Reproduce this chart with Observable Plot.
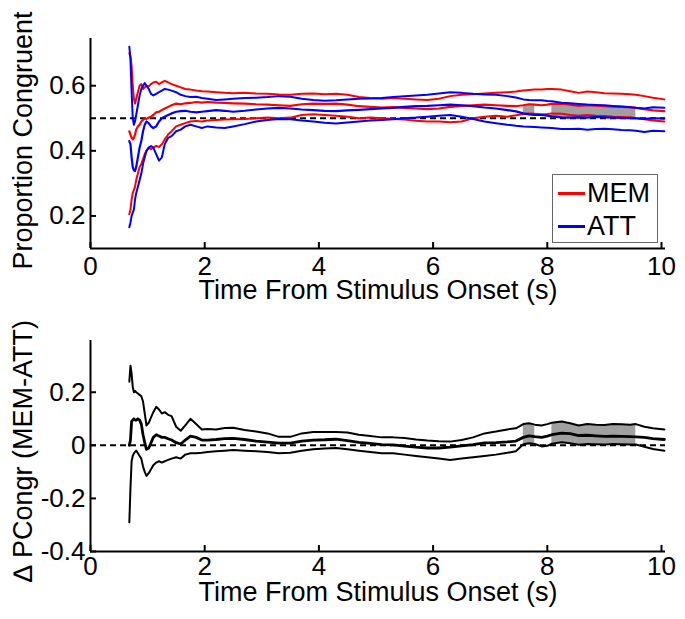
<!DOCTYPE html>
<html><head><meta charset="utf-8">
<script src="https://cdn.jsdelivr.net/npm/d3@7"></script>
<script src="https://cdn.jsdelivr.net/npm/@observablehq/plot@0.6"></script>
<style>
body{margin:0;background:#fff;font-family:"Liberation Sans",Arial,sans-serif;}
#wrap{position:relative;width:685px;height:619px;}
#wrap svg{display:block;}
.legend{position:absolute;left:552px;top:174px;width:106px;height:69px;box-sizing:border-box;border:1px solid #666;background:#fff;}
.row{position:absolute;left:5px;height:30px;display:flex;align-items:center;font-size:27px;color:#000;line-height:30px;}
.sw{display:inline-block;width:27px;height:3px;margin-right:2px;}
</style></head><body><div id="wrap"></div>
<script>
// time (s)
const time = [0.68,0.70,0.72,0.74,0.76,0.78,0.80,0.83,0.86,0.89,0.92,0.95,0.98,1.02,1.06,1.10,1.15,1.20,1.25,1.30,1.36,1.42,1.50,1.58,1.66,1.75,1.85,1.95,2.05,2.2,2.35,2.5,2.7,2.9,3.1,3.3,3.5,3.7,3.9,4.1,4.3,4.5,4.7,4.9,5.1,5.3,5.5,5.7,5.9,6.1,6.3,6.5,6.7,
  6.9,7.1,7.3,7.45,7.58,7.68,7.78,7.9,8.0,8.08,8.25,8.4,8.55,8.7,8.85,9.0,9.15,9.3,9.45,9.55,9.7,9.85,10.05];
// top panel: proportion congruent, MEM (red) and ATT (blue): mean and CI bounds
const memHi = [.70,.69,.66,.60,.56,.545,.56,.58,.60,.605,.59,.595,.60,.598,.605,.61,.612,.605,.61,.615,.61,.605,.60,.595,.59,.588,.585,.583,.582,.58,.578,.577,.578,.576,.575,.573,.572,.575,.576,.574,.575,.572,.565,.562,.56,.562,.56,.558,.556,.56,.568,.572,.574,
  .576,.578,.58,.582,.585,.587,.588,.588,.59,.59,.588,.583,.578,.582,.58,.577,.576,.575,.574,.572,.568,.563,.558];
const memMean = [.46,.45,.44,.435,.44,.45,.465,.475,.48,.49,.495,.50,.498,.502,.505,.51,.518,.52,.525,.53,.535,.54,.545,.543,.546,.547,.55,.548,.55,.548,.547,.546,.545,.543,.542,.54,.538,.543,.545,.544,.545,.542,.537,.535,.533,.534,.532,.53,.528,.53,.535,.538,.54,
  .542,.54,.538,.537,.54,.543,.542,.54,.542,.544,.545,.542,.538,.54,.539,.537,.536,.535,.534,.532,.528,.524,.522];
const memLo = [.205,.22,.25,.27,.28,.29,.31,.33,.35,.36,.375,.39,.40,.41,.405,.41,.415,.412,.42,.435,.45,.46,.475,.48,.485,.49,.492,.49,.493,.495,.496,.497,.498,.50,.502,.50,.502,.51,.512,.51,.508,.505,.50,.502,.50,.498,.496,.492,.49,.49,.488,.49,.50,
  .505,.508,.505,.509,.513,.515,.514,.512,.513,.515,.514,.51,.508,.51,.508,.507,.505,.504,.503,.5,.497,.493,.49];
const attHi = [.72,.68,.58,.50,.48,.49,.51,.54,.57,.59,.60,.608,.60,.59,.575,.57,.575,.58,.585,.59,.588,.585,.58,.572,.568,.565,.566,.562,.56,.556,.558,.56,.562,.563,.565,.568,.566,.56,.556,.554,.555,.558,.56,.561,.562,.565,.568,.57,.572,.576,.58,.578,.575,
  .573,.572,.568,.564,.558,.556,.555,.555,.553,.552,.548,.546,.544,.542,.541,.54,.538,.536,.534,.532,.53,.534,.532];
const attMean = [.43,.42,.38,.35,.34,.338,.35,.38,.41,.43,.46,.48,.49,.485,.475,.47,.475,.49,.50,.505,.51,.515,.52,.522,.523,.52,.518,.52,.522,.525,.523,.52,.523,.527,.53,.532,.53,.527,.525,.523,.522,.524,.526,.528,.53,.532,.535,.537,.538,.54,.542,.54,.537,
  .533,.53,.525,.521,.515,.512,.51,.51,.508,.506,.503,.502,.503,.502,.504,.503,.502,.501,.5,.5,.498,.5,.499];
const attLo = [.165,.18,.2,.21,.22,.25,.27,.29,.31,.33,.36,.38,.40,.41,.415,.41,.39,.37,.38,.42,.44,.445,.46,.465,.475,.48,.475,.47,.475,.472,.47,.475,.482,.49,.495,.498,.497,.493,.49,.486,.484,.487,.49,.493,.495,.497,.50,.502,.505,.508,.51,.505,.498,
  .49,.485,.48,.477,.475,.474,.473,.472,.471,.47,.467,.467,.468,.465,.467,.468,.466,.464,.463,.462,.458,.462,.46];
// bottom panel: difference MEM-ATT, mean and CI bounds
const dHi = [.24,.30,.27,.22,.20,.205,.20,.195,.19,.185,.165,.12,.075,.085,.105,.125,.145,.135,.12,.125,.115,.11,.07,.055,.075,.10,.08,.06,.062,.06,.065,.066,.058,.052,.045,.032,.032,.045,.05,.05,.05,.048,.04,.035,.03,.03,.028,.022,.018,.015,.014,.02,.03,
  .045,.052,.06,.064,.08,.083,.078,.075,.08,.085,.09,.083,.075,.08,.078,.077,.08,.079,.078,.08,.07,.064,.06];
const dMean = [0,.02,.09,.095,.10,.095,.095,.10,.095,.08,.04,.01,-.015,-.01,.01,.03,.04,.035,.03,.03,.025,.02,.01,.005,.02,.035,.03,.02,.02,.022,.025,.026,.022,.016,.012,.008,.008,.016,.02,.021,.023,.018,.011,.007,.003,.002,-.003,-.007,-.01,-.01,-.007,-.002,.003,
  .009,.01,.013,.016,.03,.036,.033,.03,.035,.04,.046,.044,.037,.038,.036,.034,.035,.034,.033,.032,.03,.025,.022];
const dLo = [-.29,-.16,-.06,-.04,-.03,-.025,-.02,-.03,-.04,-.05,-.08,-.10,-.115,-.105,-.09,-.075,-.065,-.06,-.065,-.06,-.055,-.05,-.045,-.05,-.035,-.03,-.03,-.028,-.025,-.022,-.02,-.018,-.02,-.022,-.025,-.03,-.028,-.02,-.015,-.012,-.01,-.015,-.02,-.025,-.03,-.03,-.035,-.04,-.045,-.05,-.055,-.05,-.045,
  -.04,-.035,-.028,-.022,.004,.008,.005,-.004,-.002,.006,.012,.008,.002,.005,.004,.003,.005,.004,.003,.003,-.005,-.014,-.02];
// significant intervals (s)
const sigStart = [7.58, 8.08];
const sigEnd = [7.78, 9.55];
// ticks and labels
const xTicks = [0,2,4,6,8,10];
const yTicksTop = [0.2,0.4,0.6];
const yTicksBottom = [-0.4,-0.2,0,0.2];
const chanceTop = 0.5, chanceBottom = 0;
const xLabel = "Time From Stimulus Onset (s)";
const yLabelTop = "Proportion Congruent";
const yLabelBottom = "\u2206 PCongr (MEM-ATT)";
const seriesNames = ["MEM","ATT"];
const seriesColors = ["#ff0000","#0000ff"];

const rows = time.map((t,i)=>({t, memHi:memHi[i], memMean:memMean[i], memLo:memLo[i], attHi:attHi[i], attMean:attMean[i], attLo:attLo[i], dHi:dHi[i], dMean:dMean[i], dLo:dLo[i]}));
const sigRows = sigStart.map((s,k)=>rows.filter(d=>d.t>=s && d.t<=sigEnd[k]));

const FONT = '"Liberation Sans", Arial, Helvetica, sans-serif';
const W = 685, ML = 90, MR = 20;
const frameW = W - ML - MR;

function axesMarks(yDomain, yTicks, frameH, xPad, xlabDy, ylabDy, ylab) {
  return [
    Plot.ruleY([yDomain[0]], {stroke:"black", strokeWidth:2}),
    Plot.ruleX([0], {stroke:"black", strokeWidth:2}),
    Plot.ruleX(xTicks, {x:d=>d, insetTop: frameH-6, stroke:"black", strokeWidth:2}),
    Plot.ruleY(yTicks, {y:d=>d, insetRight: frameW-6, stroke:"black", strokeWidth:2}),
    Plot.axisX({ticks:xTicks, tickSize:0, tickPadding:xPad, fontSize:26, tickFormat:d=>String(d), label:null}),
    Plot.axisY({ticks:yTicks, tickSize:0, tickPadding:5, fontSize:26, tickFormat:d=>String(d), label:null}),
    Plot.text([xLabel], {frameAnchor:"bottom", lineAnchor:"middle", textAnchor:"middle", dy:xlabDy, fontSize:27, text:d=>d, fill:"black"}),
    Plot.text([ylab], {frameAnchor:"left", lineAnchor:"middle", textAnchor:"middle", dx:-67, dy:ylabDy, rotate:-90, fontSize:27, text:d=>d, fill:"black"})
  ];
}

const topH = 305, topMT = 38, topMB = 57;
const topPlot = Plot.plot({
  width: W, height: topH, marginLeft: ML, marginRight: MR, marginTop: topMT, marginBottom: topMB,
  style: {fontFamily: FONT, background: "white", color: "black", overflow: "visible"},
  x: {domain: [0, 10.07]},
  y: {domain: [0.1, 0.745]},
  marks: [
    ...sigRows.map(r => Plot.areaY(r, {x:"t", y1:"attMean", y2:"memMean", fill:"#a0a0a0"})),
    Plot.ruleY([chanceTop], {stroke:"black", strokeWidth:2, strokeDasharray:"6,4"}),
    Plot.line(rows, {x:"t", y:"memHi", stroke:seriesColors[0], strokeWidth:2}),
    Plot.line(rows, {x:"t", y:"memMean", stroke:seriesColors[0], strokeWidth:2.2}),
    Plot.line(rows, {x:"t", y:"memLo", stroke:seriesColors[0], strokeWidth:2}),
    Plot.line(rows, {x:"t", y:"attHi", stroke:seriesColors[1], strokeWidth:2}),
    Plot.line(rows, {x:"t", y:"attMean", stroke:seriesColors[1], strokeWidth:2.2}),
    Plot.line(rows, {x:"t", y:"attLo", stroke:seriesColors[1], strokeWidth:2}),
    ...axesMarks([0.1,0.745], yTicksTop, topH-topMT-topMB, 8, 42, -3, yLabelTop)
  ]
});

const botH = 314, botMT = 35, botMB = 68;
const botPlot = Plot.plot({
  width: W, height: botH, marginLeft: ML, marginRight: MR, marginTop: botMT, marginBottom: botMB,
  style: {fontFamily: FONT, background: "white", color: "black", overflow: "visible"},
  x: {domain: [0, 10.07]},
  y: {domain: [-0.4, 0.395]},
  marks: [
    ...sigRows.map(r => Plot.areaY(r, {x:"t", y1:"dLo", y2:"dHi", fill:"#a0a0a0"})),
    Plot.ruleY([chanceBottom], {stroke:"black", strokeWidth:2, strokeDasharray:"6,4"}),
    Plot.line(rows, {x:"t", y:"dHi", stroke:"black", strokeWidth:2}),
    Plot.line(rows, {x:"t", y:"dLo", stroke:"black", strokeWidth:2}),
    Plot.line(rows, {x:"t", y:"dMean", stroke:"black", strokeWidth:2.8}),
    ...axesMarks([-0.4,0.395], yTicksBottom, botH-botMT-botMB, 5, 41, 5, yLabelBottom)
  ]
});

const wrap = document.getElementById("wrap");
wrap.appendChild(topPlot);
wrap.appendChild(botPlot);

const leg = document.createElement("div");
leg.className = "legend";
seriesNames.forEach((name,i)=>{
  const r = document.createElement("div");
  r.className = "row";
  r.style.top = (3 + i*33) + "px";
  const sw = document.createElement("span");
  sw.className = "sw";
  sw.style.background = seriesColors[i];
  r.appendChild(sw);
  r.appendChild(document.createTextNode(name));
  leg.appendChild(r);
});
wrap.appendChild(leg);
</script>
</body></html>
